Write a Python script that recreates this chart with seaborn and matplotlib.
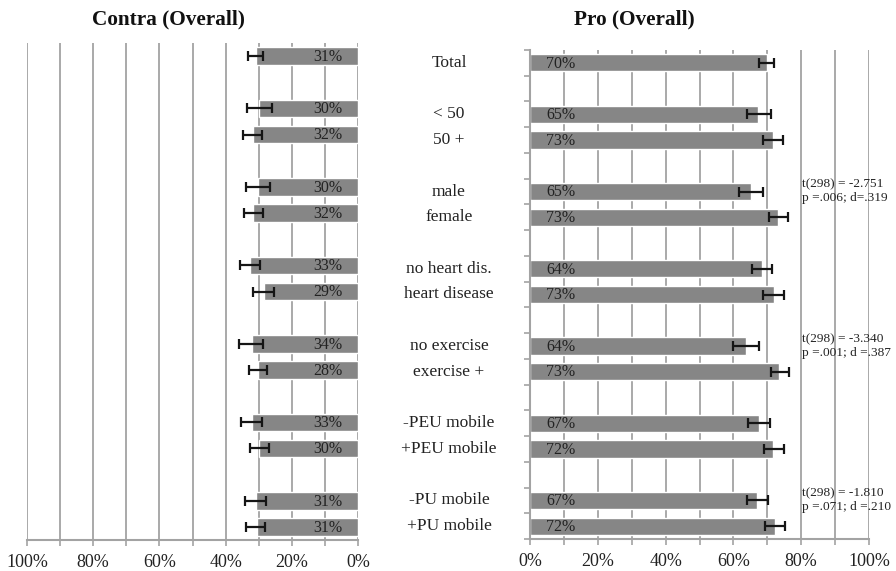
import numpy as np
import pandas as pd
import matplotlib
matplotlib.use("Agg")
import matplotlib.pyplot as plt
import matplotlib.transforms as mtransforms
import seaborn as sns

# ---------------- data ----------------
categories = ["Total", "<50", "50+", "male", "female", "no heart dis.", "heart disease",
              "no exercise", "exercise +", "-PEU mobile", "+PEU mobile", "-PU mobile", "+PU mobile"]
category_text = ["Total", "< 50", "50 +", "male", "female", "no heart dis.", "heart disease",
                 "no exercise", "exercise +", "-PEU mobile", "+PEU mobile", "-PU mobile", "+PU mobile"]
row_order = ["Total", "_b1", "<50", "50+", "_b2", "male", "female", "_b3",
             "no heart dis.", "heart disease", "_b4", "no exercise", "exercise +", "_b5",
             "-PEU mobile", "+PEU mobile", "_b6", "-PU mobile", "+PU mobile"]

contra_vals = [30.8, 29.9, 31.6, 30.1, 31.6, 32.6, 28.3, 32.1, 30.1, 32.1, 29.8, 30.9, 30.6]
contra_lo = [28.8, 26.1, 29.1, 26.6, 28.8, 29.6, 25.4, 28.6, 27.6, 29.1, 26.8, 27.8, 28.0]
contra_hi = [33.1, 33.4, 34.6, 33.8, 34.4, 35.6, 31.6, 35.9, 32.8, 35.4, 32.6, 34.1, 33.8]
contra_labels = ["31%", "30%", "32%", "30%", "32%", "33%", "29%", "34%", "28%", "33%", "30%", "31%", "31%"]

pro_vals = [69.8, 67.3, 71.6, 65.1, 73.1, 68.3, 72.0, 63.6, 73.5, 67.6, 71.8, 67.1, 72.4]
pro_lo = [67.5, 63.9, 68.6, 61.7, 70.6, 65.4, 68.8, 60.0, 71.0, 64.4, 69.0, 63.9, 69.4]
pro_hi = [72.0, 71.0, 74.5, 68.8, 76.2, 71.5, 74.9, 67.6, 76.4, 70.8, 74.9, 70.3, 75.2]
pro_labels = ["70%", "65%", "73%", "65%", "73%", "64%", "73%", "64%", "73%", "67%", "72%", "67%", "72%"]

stats_rows = ["male", "no exercise", "-PU mobile"]
stats_text = ["t(298) = -2.751\np =.006; d=.319",
              "t(298) = -3.340\np =.001; d =.387",
              "t(298) = -1.810\np =.071; d =.210"]

x_ticks = [0, 10, 20, 30, 40, 50, 60, 70, 80, 90, 100]
x_ticklabels = ["0%", "", "20%", "", "40%", "", "60%", "", "80%", "", "100%"]

# ---------------- style ----------------
sns.set_style("white")
plt.rcParams["font.family"] = ["Liberation Serif", "DejaVu Serif"]

BAR = "#868686"
GRID = "#a3a3a3"
TXT = "#222222"

fig = plt.figure(figsize=(8.96, 5.71), dpi=100)
W, H = 896, 571


def px_axes(l, r, t, b):
    return fig.add_axes([l / W, 1 - b / H, (r - l) / W, (b - t) / H])


ax_c = px_axes(27, 358, 43, 540)
ax_p = px_axes(530, 869, 50, 539)

df_c = pd.DataFrame({"row": categories, "value": contra_vals})
df_p = pd.DataFrame({"row": categories, "value": pro_vals})

for ax, df in ((ax_c, df_c), (ax_p, df_p)):
    sns.barplot(data=df, x="value", y="row", order=row_order, color=BAR,
                saturation=1, width=0.67, errorbar=None, ax=ax, zorder=2)

pos = {r: i for i, r in enumerate(row_order)}
ys = np.array([pos[c] for c in categories])

# error bars
cv = np.array(contra_vals)
ax_c.errorbar(cv, ys, xerr=[cv - np.array(contra_lo), np.array(contra_hi) - cv],
              fmt="none", ecolor="#151515", elinewidth=1.6, capsize=3.6, capthick=1.6, zorder=3)
pv = np.array(pro_vals)
ax_p.errorbar(pv, ys, xerr=[pv - np.array(pro_lo), np.array(pro_hi) - pv],
              fmt="none", ecolor="#151515", elinewidth=1.6, capsize=3.6, capthick=1.6, zorder=3)

# value labels
for y, t in zip(ys, contra_labels):
    ax_c.text(4.8, y + 0.03, t, ha="right", va="center", fontsize=11.5, color=TXT, zorder=4)
for y, t in zip(ys, pro_labels):
    ax_p.text(4.7, y + 0.03, t, ha="left", va="center", fontsize=11.5, color=TXT, zorder=4)

# stats
for r, t in zip(stats_rows, stats_text):
    ax_p.text(80.3, pos[r], t, ha="left", va="center", fontsize=9.6, color=TXT,
              linespacing=1.2, zorder=4)

# axes formatting
for ax in (ax_c, ax_p):
    ax.set_ylim(len(row_order) - 0.5, -0.5)
    ax.set_xticks(x_ticks)
    ax.set_xticklabels(x_ticklabels, fontsize=13, color=TXT)
    ax.set_xlabel("")
    ax.set_ylabel("")
    ax.set_axisbelow(True)
    ax.grid(axis="x", color=GRID, linewidth=1.3)
    ax.grid(axis="y", visible=False)
    for s in ("top", "right"):
        ax.spines[s].set_visible(False)
    ax.spines["bottom"].set_color(GRID)
    ax.spines["bottom"].set_linewidth(1.5)
    ax.tick_params(axis="x", length=4, width=1.2, color=GRID, pad=6, bottom=True)

ax_c.set_xlim(100, 0)
ax_p.set_xlim(0, 100)

ax_c.spines["left"].set_visible(False)
ax_c.set_yticks([])

ax_p.spines["left"].set_color(GRID)
ax_p.spines["left"].set_linewidth(1.5)
ax_p.set_yticks(np.arange(-0.5, len(row_order), 1.0))
ax_p.set_yticklabels([])
ax_p.tick_params(axis="y", length=4, width=1.2, color=GRID, left=True)

# category labels in the middle
trans = mtransforms.blended_transform_factory(fig.transFigure, ax_p.transData)
for y, t in zip(ys, category_text):
    ax_p.text(449 / W, y, t, transform=trans, ha="center", va="center",
              fontsize=12.5, color=TXT, clip_on=False)

# titles
fig.text(168 / W, 1 - 19 / H, "Contra (Overall)", ha="center", va="center",
         fontsize=15.3, fontweight="bold", color="#111111")
fig.text(634 / W, 1 - 19 / H, "Pro (Overall)", ha="center", va="center",
         fontsize=15.3, fontweight="bold", color="#111111")

fig.savefig("out.png", dpi=100)
